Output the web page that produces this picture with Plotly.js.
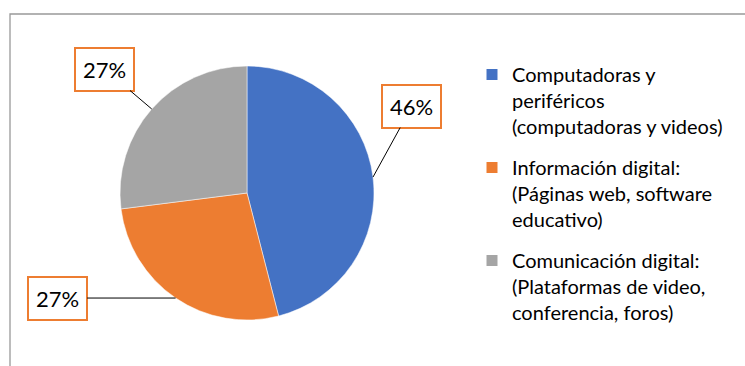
<!DOCTYPE html>
<html>
<head>
<meta charset="utf-8">
<script src="https://cdn.plot.ly/plotly-3.0.1.min.js"></script>
<style>html,body{margin:0;padding:0;background:#fff;}#chart{width:745px;height:366px;}</style>
</head>
<body>
<div id="chart"></div>
<script>
const categories = [
  "Computadoras y<br>periféricos<br>(computadoras y videos)",
  "Información digital:<br>(Páginas web, software<br>educativo)",
  "Comunicación digital:<br>(Plataformas de video,<br>conferencia, foros)"
];
const values = [46, 27, 27];
const colors = ["#4472C4", "#ED7D31", "#A5A5A5"];
// label box offsets (px) from the slice edge point
const labelOffsets = [[39, -71], [-118, 0], [-47, -40]];

const W = 745, H = 366;
const cxPx = 247, cyPx = 193, rPx = 127;
const domX = [(cxPx - rPx) / W, (cxPx + rPx) / W];
const domY = [(H - cyPx - rPx) / H, (H - cyPx + rPx) / H];

const total = values.reduce((a, b) => a + b, 0);
let cum = 0;
const annotations = values.map((v, i) => {
  const mid = (cum + v / 2) / total * 2 * Math.PI;
  cum += v;
  const px = cxPx + rPx * Math.sin(mid);
  const py = cyPx - rPx * Math.cos(mid);
  return {
    x: px / W, y: 1 - py / H, xref: 'paper', yref: 'paper',
    text: Math.round(v / total * 100) + '%',
    showarrow: true, arrowhead: 0, arrowwidth: 1, arrowcolor: '#000', standoff: 0,
    ax: labelOffsets[i][0], ay: labelOffsets[i][1],
    bordercolor: '#ED7D31', borderwidth: 2, borderpad: 7, bgcolor: '#fff',
    font: {family: 'Lato, sans-serif', size: 22, color: '#000'}
  };
});

const data = [{
  type: 'pie',
  labels: categories,
  values: values,
  marker: {colors: colors, line: {color: '#fff', width: 0.5}},
  sort: false,
  direction: 'clockwise',
  rotation: 0,
  textinfo: 'none',
  hoverinfo: 'label+percent',
  showlegend: false,
  domain: {x: domX, y: domY}
}];
// legend entries (one per category, so that groups can be spaced)
categories.forEach((c, i) => {
  data.push({
    type: 'scatter', mode: 'markers', x: [null], y: [null],
    name: c, legendgroup: 'g' + i, showlegend: true,
    marker: {symbol: 'square', size: 11, color: colors[i]},
    hoverinfo: 'skip'
  });
});

const layout = {
  width: W, height: H,
  margin: {l: 0, r: 0, t: 0, b: 0},
  paper_bgcolor: '#fff',
  plot_bgcolor: 'rgba(0,0,0,0)',
  xaxis: {visible: false, showgrid: false, zeroline: false},
  yaxis: {visible: false, showgrid: false, zeroline: false},
  showlegend: true,
  legend: {
    x: 472 / W, y: 1 - 55 / H, xanchor: 'left', yanchor: 'top',
    font: {family: 'Lato, sans-serif', size: 20, color: '#000'},
    valign: 'top', bgcolor: 'rgba(0,0,0,0)', tracegroupgap: 12
  },
  shapes: [{
    type: 'rect', xref: 'paper', yref: 'paper',
    x0: 10 / W, x1: 1.05, y0: -0.05, y1: 1 - 14 / H,
    line: {color: '#999', width: 1.3}
  }],
  annotations: annotations
};

Plotly.newPlot('chart', data, layout, {displayModeBar: false, staticPlot: true});
</script>
</body>
</html>
